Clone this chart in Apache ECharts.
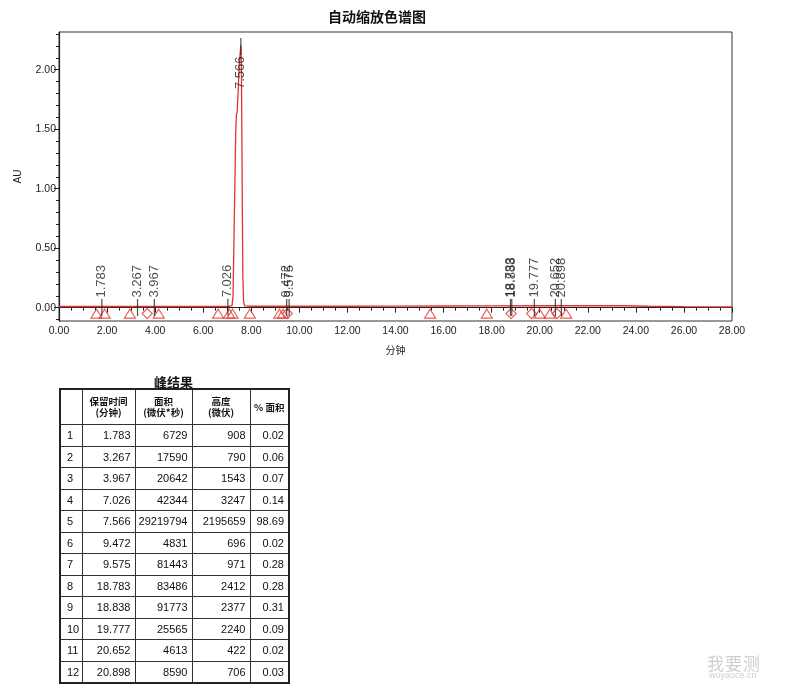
<!DOCTYPE html>
<html>
<head>
<meta charset="utf-8">
<title>自动缩放色谱图</title>
<script src="https://cdn.jsdelivr.net/npm/echarts@6/dist/echarts.min.js"></script>
<style>
  html, body { margin: 0; padding: 0; background: #fff; }
  #wrap { position: relative; width: 789px; height: 691px; overflow: hidden; }
  #chart { position: absolute; left: 0; top: 0; width: 789px; height: 691px; }
  #peakTitle {
    position: absolute; left: 59px; top: 372px; width: 229px; text-align: center;
    font: bold 13px "Noto Sans CJK SC", sans-serif; color: #111;
  }
  #peakTable {
    position: absolute; left: 59px; top: 388px; width: 229px;
    border-collapse: collapse; table-layout: fixed; border: 2px solid #222;
    font-family: "Liberation Sans", "Noto Sans CJK SC", sans-serif; font-size: 11px; color: #111;
  }
  #peakTable td, #peakTable th { border: 1px solid #333; padding: 0 4px 0 0; }
  #peakTable th {
    height: 34px; font-size: 9.5px; line-height: 11px; font-weight: bold; text-align: center;
    font-family: "Noto Sans CJK SC", sans-serif; padding: 0;
  }
  #peakTable td { height: 20.5px; text-align: right; }
  #peakTable td.no { text-align: left; padding-left: 6px; }
  .wm { position: absolute; color: #cfcfcf; font-family: "Noto Sans CJK SC", sans-serif; }
</style>
</head>
<body>
<div id="wrap">
  <div id="chart"></div>
  <div id="peakTitle">峰结果</div>
  <table id="peakTable">
    <colgroup><col style="width:22px"><col style="width:53px"><col style="width:57px"><col style="width:58px"><col style="width:39px"></colgroup>
    <thead>
      <tr><th></th><th>保留时间<br>(分钟)</th><th>面积<br>(微伏*秒)</th><th>高度<br>(微伏)</th><th>% 面积</th></tr>
    </thead>
    <tbody id="peakRows"></tbody>
  </table>
  <div class="wm" style="left:707px; top:650px; font-size:17px; letter-spacing:1px;">我要测</div>
  <div class="wm" style="left:709px; top:670px; font-size:9px; font-family:'Liberation Sans';">woyaoce.cn</div>
</div>
<script>
// 色谱曲线 (分钟 / AU)
const traceT = [0, 1, 2, 3, 4, 5, 6, 7, 7.10, 7.20, 7.24, 7.27, 7.31, 7.35, 7.38, 7.41, 7.45, 7.50, 7.566,
  7.59, 7.61, 7.63, 7.65, 7.68, 7.72, 8, 10, 12, 14, 16, 18, 20, 22, 23.5, 24.5, 26, 28]
const traceY = [0.010, 0.010, 0.010, 0.010, 0.010, 0.010, 0.010, 0.011, 0.012, 0.018, 0.10, 0.45, 0.95, 1.45, 1.62, 1.64, 1.80, 2.05, 2.205,
  2.00, 1.40, 0.75, 0.25, 0.05, 0.015, 0.012, 0.012, 0.012, 0.013, 0.014, 0.015, 0.016, 0.016, 0.016, 0.012, 0.008, 0.006]

// 积分起止标记
const triT = [1.56, 1.90, 2.95, 4.15, 6.62, 7.08, 7.22, 7.94, 9.17, 9.32, 15.44, 17.80, 20.00, 20.42, 21.10]
const diaT = [3.67, 9.50, 18.81, 19.66, 20.72]
const markerY = -0.05

// 峰结果
const peakRT = [1.783, 3.267, 3.967, 7.026, 7.566, 9.472, 9.575, 18.783, 18.838, 19.777, 20.652, 20.898]
const peakArea = [6729, 17590, 20642, 42344, 29219794, 4831, 81443, 83486, 91773, 25565, 4613, 8590]
const peakHeight = [908, 790, 1543, 3247, 2195659, 696, 971, 2412, 2377, 2240, 422, 706]
const peakPct = ['0.02', '0.06', '0.07', '0.14', '98.69', '0.02', '0.28', '0.28', '0.31', '0.09', '0.02', '0.03']

// 坐标轴刻度
const yMajor = [0, 0.5, 1, 1.5, 2]
const yMinor = [-0.1, 0.1, 0.2, 0.3, 0.4, 0.6, 0.7, 0.8, 0.9, 1.1, 1.2, 1.3, 1.4, 1.6, 1.7, 1.8, 1.9, 2.1, 2.2, 2.3]
const yMin = -0.112
const yMax = 2.317

const red = '#e3342f'
const ink = '#222'

// table
const rowsHtml = peakRT.map((rt, i) =>
  '<tr><td class="no">' + (i + 1) + '</td><td>' + rt.toFixed(3) + '</td><td>' + peakArea[i] +
  '</td><td>' + peakHeight[i] + '</td><td>' + peakPct[i] + '</td></tr>').join('')
document.getElementById('peakRows').innerHTML = rowsHtml

const chart = echarts.init(document.getElementById('chart'))

const peakLabel = {
  show: true,
  formatter: p => p.value[0].toFixed(3),
  rotate: 90,
  position: 'inside',
  align: 'left',
  verticalAlign: 'middle',
  offset: [10, 0],
  fontSize: 13,
  fontFamily: 'Liberation Sans',
  color: ink
}

chart.setOption({
  animation: false,
  title: {
    text: '自动缩放色谱图',
    left: 323,
    top: 5,
    textStyle: { fontSize: 14, fontWeight: 'bold', color: '#111', fontFamily: 'Noto Sans CJK SC' }
  },
  grid: { left: 59, right: 57, top: 32, bottom: 370, show: true, borderColor: '#333', borderWidth: 1 },
  xAxis: {
    type: 'value',
    min: 0,
    max: 28,
    interval: 2,
    name: '分钟',
    nameLocation: 'middle',
    nameGap: 24,
    nameTextStyle: { fontSize: 10, color: ink, fontFamily: 'Noto Sans CJK SC' },
    axisLine: { lineStyle: { color: ink, width: 1.2 } },
    axisTick: { length: 5, lineStyle: { color: ink } },
    minorTick: { show: true, splitNumber: 4, length: 3, lineStyle: { color: ink } },
    axisLabel: { formatter: v => v.toFixed(2), fontSize: 10.5, color: ink, margin: 5, fontFamily: 'Liberation Sans' },
    splitLine: { show: false }
  },
  yAxis: [
    {
      type: 'value',
      min: yMin,
      max: yMax,
      name: 'AU',
      nameLocation: 'middle',
      nameGap: 36,
      nameTextStyle: { fontSize: 10, color: ink, fontFamily: 'Liberation Sans' },
      axisLine: { show: true, lineStyle: { color: ink, width: 1.2 } },
      axisTick: { show: true, length: 5, customValues: yMajor, lineStyle: { color: ink } },
      axisLabel: { customValues: yMajor, formatter: v => v.toFixed(2), fontSize: 10.5, color: ink, margin: 3, fontFamily: 'Liberation Sans' },
      splitLine: { show: false }
    },
    {
      type: 'value',
      min: yMin,
      max: yMax,
      position: 'left',
      axisLine: { show: false },
      axisTick: { show: true, length: 3, customValues: yMinor, lineStyle: { color: ink } },
      axisLabel: { show: false },
      splitLine: { show: false }
    }
  ],
  series: [
    {
      name: 'trace',
      type: 'line',
      data: traceT.map((t, i) => [t, traceY[i]]),
      symbol: 'none',
      lineStyle: { color: red, width: 1.3 },
      silent: true,
      z: 3
    },
    {
      name: 'start/end',
      type: 'scatter',
      data: triT.map(t => [t, markerY]),
      symbol: 'triangle',
      symbolSize: [11, 9],
      itemStyle: { color: 'rgba(255,255,255,0)', borderColor: red, borderWidth: 1.2 },
      silent: true,
      z: 4
    },
    {
      name: 'valley',
      type: 'scatter',
      data: diaT.map(t => [t, markerY]),
      symbol: 'diamond',
      symbolSize: [10, 10],
      itemStyle: { color: 'rgba(255,255,255,0)', borderColor: red, borderWidth: 1.2 },
      silent: true,
      z: 4
    },
    {
      name: 'peaks',
      type: 'scatter',
      data: peakRT.map((t, i) => {
        const item = { value: [t, peakHeight[i] / 1e6] }
        // 主峰标签放在峰顶下方
        if (peakHeight[i] > 1e6) item.label = { align: 'right', offset: [-10, 0] }
        return item
      }),
      symbol: 'rect',
      symbolSize: [1.2, 17],
      itemStyle: { color: '#222' },
      label: peakLabel,
      silent: true,
      z: 5
    }
  ]
})
</script>
</body>
</html>
